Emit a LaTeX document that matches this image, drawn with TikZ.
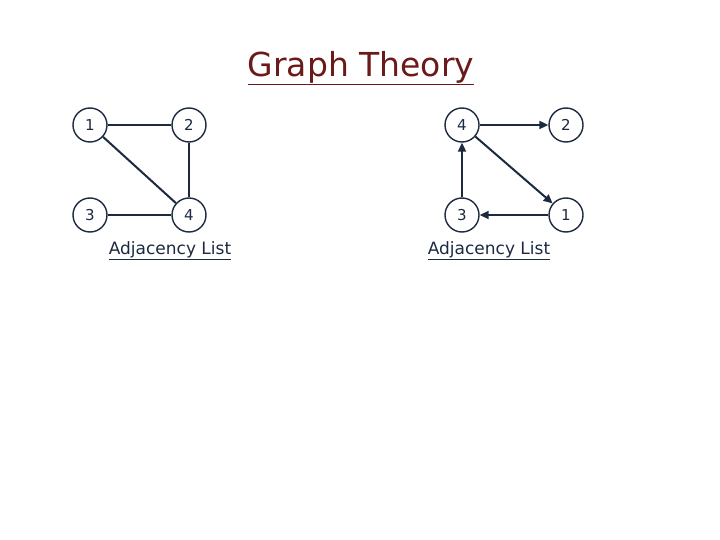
\documentclass[tikz,border=0pt]{standalone}
\usepackage{fontspec}
\setmainfont{DejaVu Sans}
\definecolor{ink}{HTML}{1C2A40}
\definecolor{ttl}{HTML}{6B1A1A}
\begin{document}
\begin{tikzpicture}[x=1pt,y=-1pt,
  vtx/.style={circle,draw=ink,line width=1.4pt,minimum size=34pt,inner sep=0pt,font=\fontsize{15}{15}\selectfont,text=ink},
  edge/.style={draw=ink,line width=2pt},
  arc/.style={edge,-{Triangle[length=9pt,width=8pt]}},
  lbl/.style={font=\fontsize{17}{17}\selectfont,text=ink}]
\usetikzlibrary{arrows.meta}
\useasboundingbox[fill=white] (0,0) rectangle (720,540);
\node[font=\fontsize{33}{33}\selectfont,text=ttl] (title) at (361,68) {\underline{Graph Theory}};
\node[vtx] (a1) at (90,125) {1};
\node[vtx] (a2) at (189,125) {2};
\node[vtx] (a3) at (90,215) {3};
\node[vtx] (a4) at (189,215) {4};
\draw[edge] (a1)--(a2); \draw[edge] (a1)--(a4); \draw[edge] (a2)--(a4); \draw[edge] (a3)--(a4);
\node[lbl] (l1) at (170,251) {\underline{Adjacency List}};
\node[vtx] (b4) at (462,125) {4};
\node[vtx] (b2) at (566,125) {2};
\node[vtx] (b3) at (462,215) {3};
\node[vtx] (b1) at (566,215) {1};
\draw[arc] (b4)--(b2); \draw[arc] (b4)--(b1); \draw[arc] (b1)--(b3); \draw[arc] (b3)--(b4);
\node[lbl] (l2) at (489,251) {\underline{Adjacency List}};
\end{tikzpicture}
\end{document}
